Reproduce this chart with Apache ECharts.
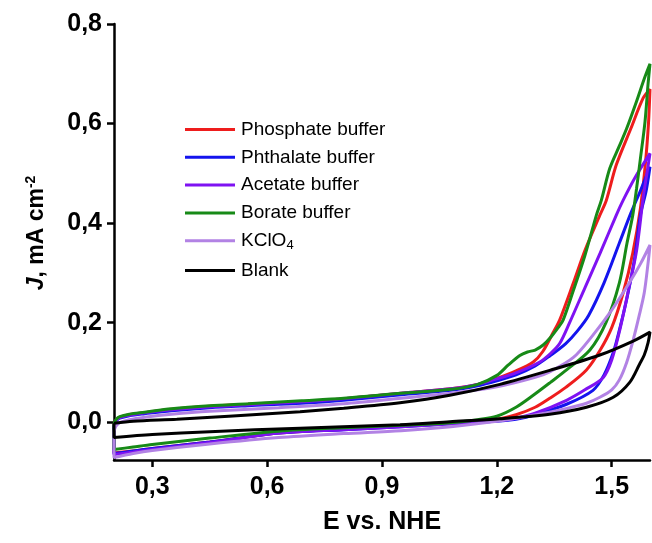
<!DOCTYPE html>
<html>
<head>
<meta charset="utf-8">
<script src="https://cdn.jsdelivr.net/npm/echarts@6/dist/echarts.min.js"></script>
<style>
  html, body { margin: 0; padding: 0; background: #fff; }
  #chart { width: 652px; height: 543px; }
</style>
</head>
<body>
<div id="chart"></div>
<script>
// Cyclic voltammograms: current density J (mA cm^-2) vs potential E (V vs. NHE).
// Each loop: anodic sweep 0.2 -> 1.6 V, then the return sweep back to 0.2 V.

const seriesNames = ['Phosphate buffer', 'Phthalate buffer', 'Acetate buffer', 'Borate buffer', 'KClO4', 'Blank'];
const seriesColors = ['#ee1d1d', '#1414ee', '#7f12f2', '#178a17', '#b282e4', '#000000'];

const xTicks = [0.3, 0.6, 0.9, 1.2, 1.5];
const yTicks = [0, 0.2, 0.4, 0.6, 0.8];

const phosphate = [
  [0.2,-0.004],[0.205,0.004],[0.215,0.010],[0.24,0.015],[0.28,0.019],[0.35,0.026],[0.45,0.032],
  [0.55,0.036],[0.69,0.041],[0.8,0.047],[0.95,0.058],[1.08,0.067],[1.15,0.076],[1.2,0.088],
  [1.25,0.103],[1.295,0.121],[1.32,0.142],[1.347,0.18],[1.364,0.205],[1.4,0.28],[1.43,0.345],
  [1.469,0.416],[1.486,0.446],[1.512,0.517],[1.55,0.59],[1.582,0.651],[1.6,0.669],
  [1.596,0.6],[1.588,0.52],[1.575,0.43],[1.555,0.34],[1.53,0.26],[1.5,0.19],[1.47,0.145],
  [1.434,0.105],[1.38,0.07],[1.338,0.048],[1.3,0.03],[1.25,0.015],[1.2,0.006],[1.08,-0.002],
  [0.95,-0.008],[0.8,-0.014],[0.63,-0.022],[0.45,-0.040],[0.3,-0.053],[0.25,-0.058],[0.2,-0.062],
  [0.2,-0.004]
];

const phthalate = [
  [0.2,-0.006],[0.205,0.002],[0.215,0.008],[0.24,0.013],[0.28,0.017],[0.35,0.023],[0.45,0.029],
  [0.55,0.033],[0.69,0.038],[0.8,0.044],[0.95,0.055],[1.08,0.064],[1.15,0.073],[1.2,0.083],
  [1.25,0.095],[1.3,0.113],[1.338,0.133],[1.38,0.158],[1.41,0.183],[1.44,0.215],[1.48,0.28],
  [1.52,0.36],[1.55,0.42],[1.575,0.465],[1.6,0.513],
  [1.59,0.465],[1.575,0.416],[1.56,0.33],[1.54,0.25],[1.52,0.185],[1.504,0.14],[1.48,0.095],
  [1.451,0.064],[1.382,0.036],[1.3,0.015],[1.25,0.006],[1.2,0.002],[1.08,-0.003],[0.95,-0.009],
  [0.8,-0.015],[0.63,-0.022],[0.45,-0.040],[0.3,-0.053],[0.25,-0.058],[0.2,-0.063],
  [0.2,-0.006]
];

const acetate = [
  [0.2,-0.008],[0.205,0.002],[0.215,0.009],[0.24,0.014],[0.28,0.019],[0.35,0.025],[0.45,0.031],
  [0.55,0.035],[0.69,0.041],[0.8,0.047],[0.95,0.058],[1.08,0.067],[1.15,0.076],[1.2,0.087],
  [1.25,0.099],[1.312,0.121],[1.34,0.138],[1.364,0.158],[1.39,0.2],[1.43,0.27],[1.47,0.34],
  [1.512,0.416],[1.53,0.446],[1.56,0.49],[1.6,0.54],
  [1.592,0.5],[1.582,0.45],[1.565,0.345],[1.545,0.27],[1.521,0.185],[1.5,0.125],[1.478,0.09],
  [1.43,0.065],[1.382,0.044],[1.3,0.018],[1.25,0.008],[1.2,0.003],[1.08,-0.003],[0.95,-0.009],
  [0.8,-0.015],[0.63,-0.022],[0.45,-0.041],[0.3,-0.055],[0.25,-0.060],[0.2,-0.065],
  [0.2,-0.008]
];

const borate = [
  [0.2,-0.003],[0.205,0.005],[0.215,0.011],[0.24,0.016],[0.28,0.020],[0.35,0.027],[0.45,0.033],
  [0.55,0.037],[0.69,0.043],[0.8,0.048],[0.95,0.058],[1.08,0.066],[1.15,0.076],[1.2,0.094],
  [1.23,0.115],[1.26,0.134],[1.28,0.141],[1.3,0.145],[1.321,0.155],[1.34,0.17],[1.36,0.19],
  [1.373,0.205],[1.4,0.265],[1.43,0.335],[1.46,0.416],[1.473,0.446],[1.495,0.51],[1.52,0.555],
  [1.539,0.59],[1.565,0.645],[1.585,0.69],[1.6,0.72],
  [1.595,0.68],[1.587,0.604],[1.575,0.53],[1.565,0.47],[1.555,0.416],[1.54,0.36],[1.52,0.28],
  [1.485,0.2],[1.443,0.145],[1.382,0.105],[1.34,0.08],[1.295,0.054],[1.25,0.03],[1.2,0.012],
  [1.15,0.005],[1.08,-0.001],[0.95,-0.006],[0.8,-0.011],[0.63,-0.018],[0.45,-0.032],[0.3,-0.045],
  [0.25,-0.050],[0.2,-0.055],
  [0.2,-0.003]
];

const kclo4 = [
  [0.2,-0.018],[0.205,-0.008],[0.215,-0.001],[0.24,0.005],[0.28,0.010],[0.35,0.016],[0.45,0.022],
  [0.63,0.029],[0.8,0.037],[0.95,0.048],[1.08,0.058],[1.2,0.071],[1.3,0.09],[1.338,0.101],
  [1.4,0.13],[1.451,0.175],[1.5,0.225],[1.55,0.285],[1.575,0.318],[1.6,0.356],
  [1.595,0.32],[1.585,0.26],[1.572,0.215],[1.556,0.165],[1.539,0.12],[1.52,0.085],[1.5,0.065],
  [1.469,0.05],[1.434,0.038],[1.38,0.027],[1.338,0.02],[1.25,0.008],[1.2,0.002],[1.08,-0.009],
  [0.95,-0.017],[0.8,-0.023],[0.63,-0.031],[0.45,-0.044],[0.3,-0.057],[0.25,-0.063],[0.2,-0.071],
  [0.2,-0.018]
];

const blank = [
  [0.2,-0.002],[0.25,0.002],[0.364,0.006],[0.5,0.012],[0.686,0.021],[0.8,0.028],[0.947,0.039],
  [1.077,0.054],[1.208,0.076],[1.338,0.104],[1.469,0.135],[1.556,0.163],[1.6,0.181],
  [1.595,0.16],[1.585,0.135],[1.573,0.117],[1.547,0.08],[1.504,0.05],[1.434,0.03],[1.338,0.016],
  [1.208,0.007],[1.077,0.001],[0.947,-0.005],[0.686,-0.012],[0.45,-0.019],[0.3,-0.025],[0.2,-0.031],
  [0.2,-0.002]
];

const seriesData = [phosphate, phthalate, acetate, borate, kclo4, blank];

const FONT = '"Liberation Sans", Arial, sans-serif';
const fmtComma = v => v.toFixed(1).replace('.', ',');

const chart = echarts.init(document.getElementById('chart'), null, { renderer: 'canvas' });

chart.setOption({
  animation: false,
  backgroundColor: '#ffffff',
  grid: { left: 114, right: 2, top: 24, bottom: 83, containLabel: false },
  legend: {
    orient: 'vertical',
    left: 180,
    top: 115,
    itemWidth: 50,
    itemHeight: 3,
    itemGap: 8.8,
    icon: 'rect',
    data: seriesNames,
    textStyle: {
      fontFamily: FONT, fontSize: 19, color: '#000', padding: [0, 0, 0, 1],
      rich: {
        sub: { fontFamily: FONT, fontSize: 13, color: '#000', padding: [10, 0, 0, 0] }
      }
    },
    formatter: name => name === 'KClO4' ? 'KClO{sub|4}' : name
  },
  xAxis: {
    type: 'value',
    min: 0.2,
    max: 1.6,
    name: 'E vs. NHE',
    nameLocation: 'middle',
    nameGap: 50,
    nameTextStyle: { fontFamily: FONT, fontSize: 25, fontWeight: 'bold', color: '#000' },
    axisLine: { show: true, onZero: false, lineStyle: { color: '#000', width: 2.5 } },
    axisTick: { show: true, inside: false, length: 7, customValues: xTicks, lineStyle: { color: '#000', width: 2.5 } },
    axisLabel: { customValues: xTicks, formatter: fmtComma, fontFamily: FONT, fontSize: 25, fontWeight: 'bold', color: '#000', margin: 15 },
    splitLine: { show: false }
  },
  yAxis: {
    type: 'value',
    min: -0.076,
    max: 0.8,
    name: '{i|J}{n|, mA cm}{s|-2}',
    nameLocation: 'middle',
    nameRotate: 90,
    nameGap: 64,
    nameTextStyle: {
      padding: [0, 0, 0, 18],
      rich: {
        i: { fontFamily: FONT, fontSize: 23, fontWeight: 'bold', fontStyle: 'italic', color: '#000' },
        n: { fontFamily: FONT, fontSize: 23, fontWeight: 'bold', color: '#000' },
        s: { fontFamily: FONT, fontSize: 14, fontWeight: 'bold', color: '#000', padding: [0, 0, 12, 0] }
      }
    },
    axisLine: { show: true, onZero: false, lineStyle: { color: '#000', width: 2.5 } },
    axisTick: { show: true, inside: false, length: 7, customValues: yTicks, lineStyle: { color: '#000', width: 2.5 } },
    axisLabel: { customValues: yTicks, formatter: fmtComma, fontFamily: FONT, fontSize: 25, fontWeight: 'bold', color: '#000', margin: 12 },
    splitLine: { show: false }
  },
  series: seriesNames.map((name, i) => ({
    name: name,
    type: 'line',
    data: seriesData[i],
    smooth: 0.3,
    showSymbol: false,
    symbol: 'none',
    clip: false,
    color: seriesColors[i],
    lineStyle: { color: seriesColors[i], width: 3 },
    emphasis: { disabled: true }
  }))
});
</script>
</body>
</html>
